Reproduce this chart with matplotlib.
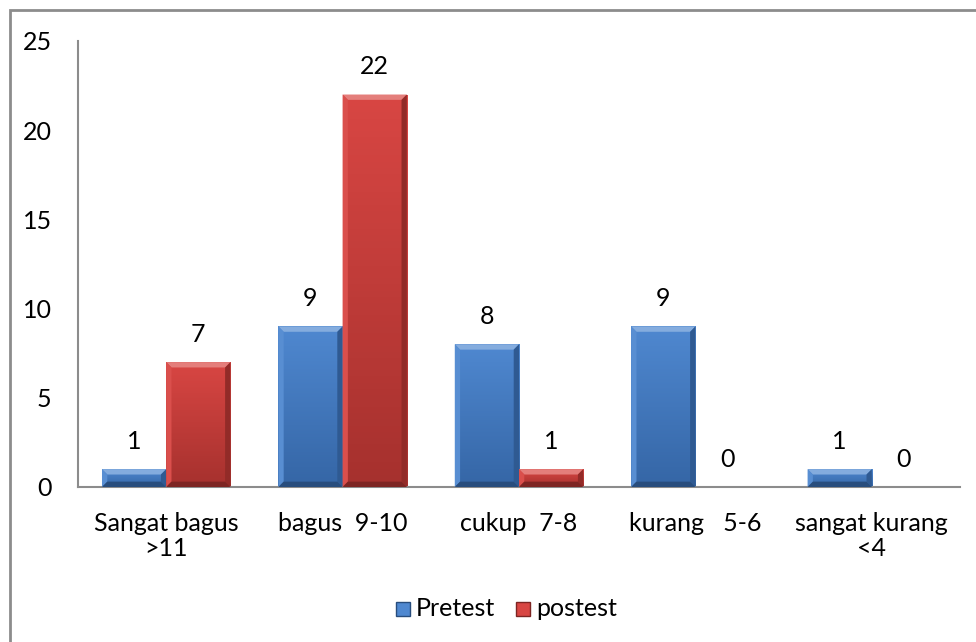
import numpy as np
import matplotlib.pyplot as plt
from matplotlib.patches import Polygon, Rectangle
from matplotlib.colors import LinearSegmentedColormap, to_rgb

plt.rcParams['font.family'] = ['Lato', 'DejaVu Sans']

categories = ["Sangat bagus\n>11", "bagus  9-10", "cukup  7-8", "kurang   5-6", "sangat kurang\n<4"]
pretest = [1, 9, 8, 9, 1]
postest = [7, 22, 1, 0, 0]

series = [
    ("Pretest", pretest, "#4F88D0", "#3566A6"),
    ("postest", postest, "#D84643", "#A6312E"),
]

fig = plt.figure(figsize=(9.76, 6.42), dpi=100)
ax = fig.add_axes([78 / 976, 1 - 487 / 642, 882 / 976, 446 / 642])

# outer chart frame (only left and top edges fall inside the image)
fig.patches.append(Rectangle((10 / 976, -0.05), 1.2, 1 - 10 / 642 + 0.05,
                             transform=fig.transFigure, fill=False,
                             edgecolor="#8c8c8c", linewidth=2))

x = np.arange(len(categories))
width = 0.364
bx, by = 0.03, 0.3  # bevel size in data units


def shade(color, f):
    c = np.array(to_rgb(color))
    if f > 0:
        return tuple(c + (1 - c) * f)
    return tuple(c * (1 + f))


def bevel_bar(left, h, top_col, bot_col):
    if h <= 0:
        return
    right = left + width
    cmap = LinearSegmentedColormap.from_list("g", [bot_col, top_col])
    grad = np.linspace(0, 1, 64).reshape(-1, 1)
    body = Rectangle((left, 0), width, h, facecolor="none", edgecolor="none")
    ax.add_patch(body)
    im = ax.imshow(grad, cmap=cmap, origin="lower", aspect="auto",
                   extent=(left, right, 0, h), zorder=2)
    im.set_clip_path(body)
    b_y = min(by, h / 3)
    # top, left, right, bottom facets
    ax.add_patch(Polygon([(left, h), (right, h), (right - bx, h - b_y), (left + bx, h - b_y)],
                         closed=True, facecolor=shade(top_col, 0.3), edgecolor="none", zorder=3))
    ax.add_patch(Polygon([(left, 0), (left, h), (left + bx, h - b_y), (left + bx, b_y)],
                         closed=True, facecolor=shade(top_col, 0.05), edgecolor="none", zorder=3))
    ax.add_patch(Polygon([(right, 0), (right, h), (right - bx, h - b_y), (right - bx, b_y)],
                         closed=True, facecolor=shade(bot_col, -0.12), edgecolor="none", zorder=3))
    ax.add_patch(Polygon([(left, 0), (right, 0), (right - bx, b_y), (left + bx, b_y)],
                         closed=True, facecolor=shade(bot_col, -0.25), edgecolor="none", zorder=3))


for i, (name, vals, top_col, bot_col) in enumerate(series):
    offs = x - width + i * width
    for xi, v in zip(offs, vals):
        bevel_bar(xi, v, top_col, bot_col)
        ax.text(xi + width / 2, v + 0.9, str(v), ha="center", va="bottom",
                fontsize=18, color="black")

ax.set_xlim(-0.5, len(categories) - 0.5)
ax.set_ylim(0, 25)
ax.set_yticks(range(0, 26, 5))
ax.set_xticks(x)
ax.set_xticklabels(categories, fontsize=18, linespacing=1.1)
ax.tick_params(axis="y", length=0, labelsize=18, pad=19)
ax.tick_params(axis="x", length=0, pad=18)
for s in ["top", "right"]:
    ax.spines[s].set_visible(False)
for s in ["left", "bottom"]:
    ax.spines[s].set_color("#8c8c8c")
    ax.spines[s].set_linewidth(1.5)

# legend with small beveled squares
ly = 1 - 609 / 642
legend_x = [396, 516]
for (name, vals, top_col, bot_col), px in zip(series, legend_x):
    x0 = px / 976
    fig.patches.append(Rectangle((x0, ly - 7 / 642), 14 / 976, 14 / 642, transform=fig.transFigure,
                                 facecolor=top_col, edgecolor=shade(bot_col, -0.25), linewidth=1))
    fig.text((px + 20) / 976, ly, name, fontsize=18, va="center", ha="left")

fig.savefig("out.png", dpi=100)
